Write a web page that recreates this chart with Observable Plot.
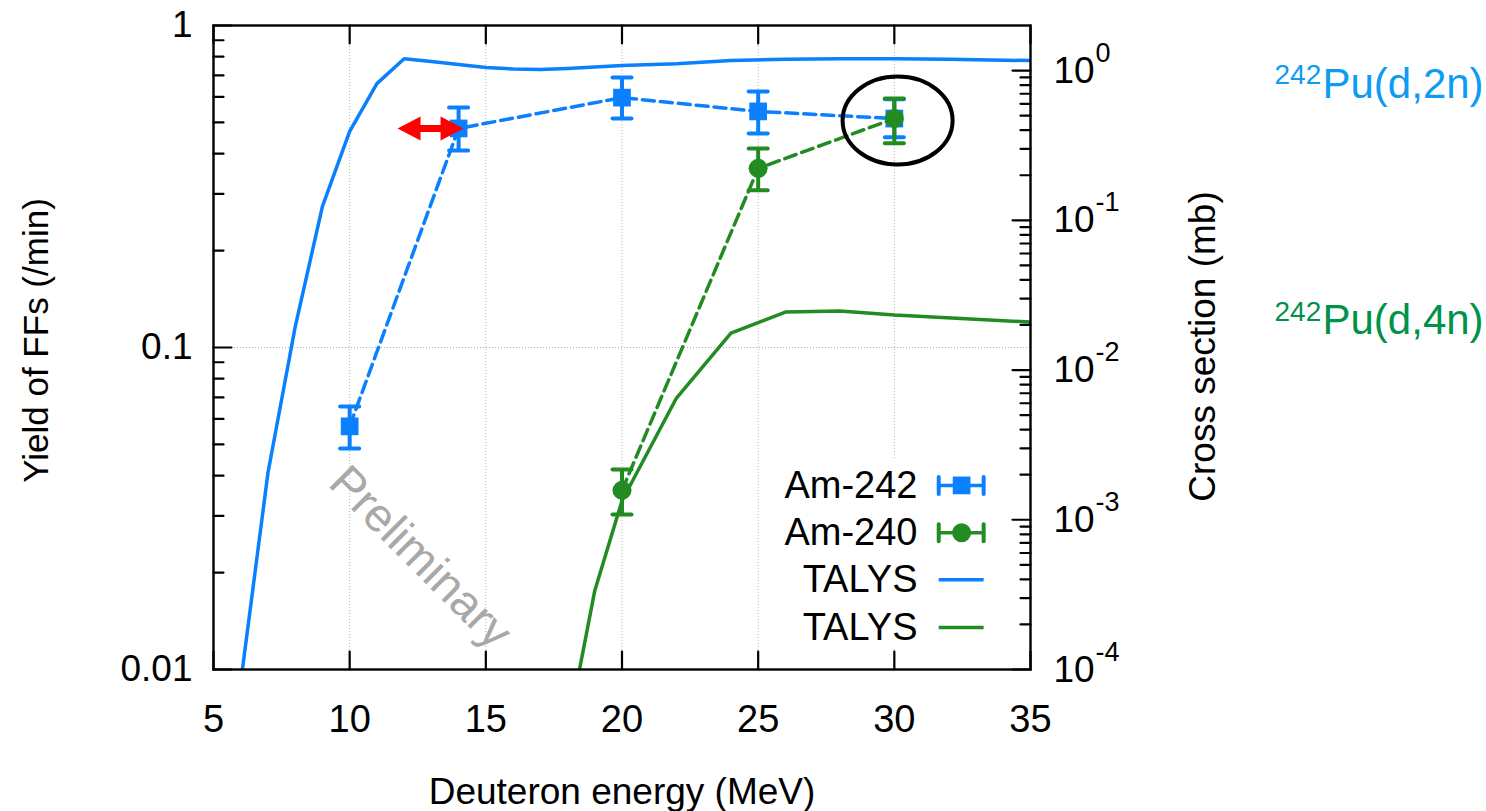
<!DOCTYPE html>
<html>
<head>
<meta charset="utf-8">
<script src="https://cdn.jsdelivr.net/npm/d3@7"></script>
<script src="https://cdn.jsdelivr.net/npm/@observablehq/plot@0.6"></script>
<style>
  html, body { margin: 0; padding: 0; background: #fff; overflow: hidden; }
</style>
</head>
<body>
<div id="chart"></div>
<script>
// ---------- data ----------
const energies242 = [10, 14, 20, 25, 30];
const yield242    = [0.0569, 0.479, 0.597, 0.541, 0.514];
const yield242Lo  = [0.0486, 0.409, 0.514, 0.462, 0.450];
const yield242Hi  = [0.0656, 0.556, 0.690, 0.624, 0.590];

const energies240 = [20, 25, 30];
const yield240    = [0.0360, 0.360, 0.514];
const yield240Lo  = [0.0303, 0.308, 0.431];
const yield240Hi  = [0.0418, 0.415, 0.593];

// TALYS cross sections (mb), right axis
const talys2nE  = [6, 7, 8, 9, 10, 11, 12, 13, 14, 15, 16, 17, 18, 20, 22, 24, 26, 28, 30, 32, 35];
const talys2nXS = [8.2e-5, 2.06e-3, 0.0194, 0.124, 0.392, 0.818, 1.20, 1.148, 1.096, 1.047, 1.024, 1.016, 1.031, 1.08, 1.11, 1.166, 1.19, 1.20, 1.20, 1.19, 1.166];
const talys4nE  = [18, 19, 20, 22, 24, 26, 28, 30, 35];
const talys4nXS = [3.86e-5, 3.36e-4, 1.34e-3, 6.5e-3, 0.01765, 0.0244, 0.0248, 0.0233, 0.0209];

// ticks & labels
const xTicks = [5, 10, 15, 20, 25, 30, 35];
const xGrid = [10, 15, 20, 25, 30];
const yGrid = [0.1];
const leftTicks = [0.01, 0.1, 1];
const leftTickLabels = ["0.01", "0.1", "1"];
const rightTicks = [1e-4, 1e-3, 1e-2, 1e-1, 1];
const rightTickExp = ["-4", "-3", "-2", "-1", "0"];
const legendLabels = ["Am-242", "Am-240", "TALYS", "TALYS"];
const xTitle = "Deuteron energy (MeV)";
const yTitle = "Yield of FFs (/min)";
const y2Title = "Cross section (mb)";
const reactionLabels = [{sup: "242", main: "Pu(d,2n)"}, {sup: "242", main: "Pu(d,4n)"}];

// annotation anchors (data units)
const legendRowY = [0.0373, 0.0266, 0.0190, 0.0135];
const legendTextX = 30.85;
const legendSampleX = [31.63, 33.28];
const legendMarkX = 32.47;
const legendBox = {x1: 25.5, x2: 34.25, y1: 0.0116, y2: 0.0452};
const arrowPos = {e: 12.97, y: 0.479};
const circlePos = {e: 30.12, y: 0.507};
const stampPos = {e: 12.6, y: 0.0223};

// ---------- scales ----------
const leftDomain = [0.01, 1];
const rightDomain = [1e-4, 2];
const L = Math.log10;
const toLeft = v => {
  const t = (L(v) - L(rightDomain[0])) / (L(rightDomain[1]) - L(rightDomain[0]));
  return 10 ** (L(leftDomain[0]) + t * (L(leftDomain[1]) - L(leftDomain[0])));
};

const am242 = energies242.map((e, i) => ({e, y: yield242[i], lo: yield242Lo[i], hi: yield242Hi[i]}));
const am240 = energies240.map((e, i) => ({e, y: yield240[i], lo: yield240Lo[i], hi: yield240Hi[i]}));
const t2n = talys2nE.map((e, i) => ({e, v: talys2nXS[i]}));
const t4n = talys4nE.map((e, i) => ({e, v: talys4nXS[i]}));

const leftMinor = [];
for (const k of [-2, -1]) for (let m = 2; m <= 9; m++) leftMinor.push(m * 10 ** k);
const rightMinor = [];
for (const k of [-4, -3, -2, -1]) for (let m = 2; m <= 9; m++) rightMinor.push(m * 10 ** k);
const rightTickData = rightTicks.map((v, i) => ({v, exp: rightTickExp[i]}));
const legendRows = legendLabels.map((t, i) => ({t, y: legendRowY[i], i}));

const BLUE = "#0a80ff";
const GREEN = "#228b22";
const FONT = "'Liberation Sans', Arial, Helvetica, sans-serif";
const LW = 3.5;
const EW = 4;

// custom shapes
const tickLine = {draw(ctx, l) { ctx.moveTo(0, 0); ctx.lineTo(0, -l); }};
const ellipseSym = {draw(ctx) {
  const rx = 55, ry = 44, k = 0.5523;
  ctx.moveTo(rx, 0);
  ctx.bezierCurveTo(rx, k * ry, k * rx, ry, 0, ry);
  ctx.bezierCurveTo(-k * rx, ry, -rx, k * ry, -rx, 0);
  ctx.bezierCurveTo(-rx, -k * ry, -k * rx, -ry, 0, -ry);
  ctx.bezierCurveTo(k * rx, -ry, rx, -k * ry, rx, 0);
  ctx.closePath();
}};
const doubleArrow = {draw(ctx) {
  const tip = 33, base = 10, hh = 12, sh = 3.5;
  ctx.moveTo(-tip, 0);
  ctx.lineTo(-base, -hh); ctx.lineTo(-base, -sh); ctx.lineTo(base, -sh); ctx.lineTo(base, -hh);
  ctx.lineTo(tip, 0);
  ctx.lineTo(base, hh); ctx.lineTo(base, sh); ctx.lineTo(-base, sh); ctx.lineTo(-base, hh);
  ctx.closePath();
}};

const errMarks = (data, color) => [
  Plot.ruleX(data, {x: "e", y1: "lo", y2: "hi", stroke: color, strokeWidth: EW}),
  Plot.vector(data, {x: "e", y: "lo", length: 19, rotate: 90, anchor: "middle", shape: tickLine, stroke: color, strokeWidth: EW}),
  Plot.vector(data, {x: "e", y: "hi", length: 19, rotate: 90, anchor: "middle", shape: tickLine, stroke: color, strokeWidth: EW})
];

const legendColor = [BLUE, GREEN, BLUE, GREEN];

const chart = Plot.plot({
  width: 1486,
  height: 811,
  marginLeft: 213,
  marginRight: 456,
  marginTop: 25,
  marginBottom: 142,
  style: {fontFamily: FONT, fontSize: "37px", color: "black", background: "white", overflow: "visible"},
  x: {domain: [5, 35]},
  y: {type: "log", domain: leftDomain},
  marks: [
    // grid
    Plot.ruleX(xGrid, {stroke: "#b0b0b0", strokeWidth: 1, strokeDasharray: "1,2"}),
    Plot.ruleY(yGrid, {stroke: "#b0b0b0", strokeWidth: 1, strokeDasharray: "1,2"}),
    // legend background
    Plot.rect([legendBox], {x1: "x1", x2: "x2", y1: "y1", y2: "y2", fill: "white"}),
    // watermark
    Plot.text(["Preliminary"], {x: () => stampPos.e, y: () => stampPos.y, text: d => d, rotate: 45, fontSize: 47, fill: "#a8a8a8", textAnchor: "middle", lineAnchor: "middle"}),
    // TALYS curves (right axis)
    Plot.line(t2n, {x: "e", y: d => toLeft(d.v), stroke: BLUE, strokeWidth: LW, clip: true}),
    Plot.line(t4n, {x: "e", y: d => toLeft(d.v), stroke: GREEN, strokeWidth: LW, clip: true}),
    // measured yields
    Plot.line(am242, {x: "e", y: "y", stroke: BLUE, strokeWidth: LW, strokeDasharray: "12,6"}),
    ...errMarks(am242, BLUE),
    Plot.dot(am242, {x: "e", y: "y", symbol: "square", r: 10, fill: BLUE}),
    Plot.line(am240, {x: "e", y: "y", stroke: GREEN, strokeWidth: LW, strokeDasharray: "12,6"}),
    ...errMarks(am240, GREEN),
    Plot.dot(am240, {x: "e", y: "y", symbol: "circle", r: 9.5, fill: GREEN}),
    // annotations
    Plot.dot([arrowPos], {x: "e", y: "y", symbol: doubleArrow, fill: "#ff0000", stroke: "none"}),
    Plot.dot([circlePos], {x: "e", y: "y", symbol: ellipseSym, fill: "none", stroke: "black", strokeWidth: 4}),
    // legend
    Plot.text(legendRows, {x: () => legendTextX, y: "y", text: "t", textAnchor: "end", lineAnchor: "middle", fontSize: 38, fill: "black"}),
    Plot.link(legendRows, {x1: () => legendSampleX[0], x2: () => legendSampleX[1], y1: "y", y2: "y", stroke: d => legendColor[d.i], strokeWidth: LW}),
    Plot.vector(legendRows.filter(d => d.i < 2), {x: () => legendSampleX[0], y: "y", length: 17, rotate: 0, anchor: "middle", shape: tickLine, stroke: d => legendColor[d.i], strokeWidth: EW}),
    Plot.vector(legendRows.filter(d => d.i < 2), {x: () => legendSampleX[1], y: "y", length: 17, rotate: 0, anchor: "middle", shape: tickLine, stroke: d => legendColor[d.i], strokeWidth: EW}),
    Plot.dot(legendRows.filter(d => d.i === 0), {x: () => legendMarkX, y: "y", symbol: "square", r: 10, fill: BLUE}),
    Plot.dot(legendRows.filter(d => d.i === 1), {x: () => legendMarkX, y: "y", symbol: "circle", r: 9.5, fill: GREEN}),
    // inward ticks
    Plot.vector(xTicks, {x: d => d, frameAnchor: "bottom", length: 18, rotate: 0, anchor: "start", shape: tickLine, stroke: "black", strokeWidth: 2.2}),
    Plot.vector(xTicks, {x: d => d, frameAnchor: "top", length: 18, rotate: 180, anchor: "start", shape: tickLine, stroke: "black", strokeWidth: 2.2}),
    Plot.vector(leftTicks, {y: d => d, frameAnchor: "left", length: 18, rotate: 90, anchor: "start", shape: tickLine, stroke: "black", strokeWidth: 2.2}),
    Plot.vector(leftMinor, {y: d => d, frameAnchor: "left", length: 10, rotate: 90, anchor: "start", shape: tickLine, stroke: "black", strokeWidth: 2.2}),
    Plot.vector(rightTicks, {y: d => toLeft(d), frameAnchor: "right", length: 18, rotate: -90, anchor: "start", shape: tickLine, stroke: "black", strokeWidth: 2.2}),
    Plot.vector(rightMinor, {y: d => toLeft(d), frameAnchor: "right", length: 10, rotate: -90, anchor: "start", shape: tickLine, stroke: "black", strokeWidth: 2.2}),
    Plot.frame({stroke: "black", strokeWidth: 2.4}),
    // axes labels
    Plot.axisX({ticks: xTicks, tickSize: 0, tickPadding: 36, fontSize: 38, label: null, tickFormat: d => String(d)}),
    Plot.axisY({ticks: leftTicks, tickSize: 0, tickPadding: 21, fontSize: 37, label: null, tickFormat: d => leftTickLabels[leftTicks.indexOf(d)]}),
    Plot.text(rightTickData, {y: d => toLeft(d.v), frameAnchor: "right", text: () => "10", dx: 23, dy: 12, textAnchor: "start", lineAnchor: "bottom", fontSize: 37, fill: "black"}),
    Plot.text(rightTickData, {y: d => toLeft(d.v), frameAnchor: "right", text: "exp", dx: 65, dy: -9, textAnchor: "start", lineAnchor: "bottom", fontSize: 27, fill: "black"}),
    Plot.text([xTitle], {frameAnchor: "bottom", text: d => d, dy: 134, textAnchor: "middle", lineAnchor: "bottom", fontSize: 37, fill: "black"}),
    Plot.text([yTitle], {frameAnchor: "left", text: d => d, dx: -166, dy: -7, rotate: -90, textAnchor: "middle", lineAnchor: "bottom", fontSize: 35, fill: "black"}),
    Plot.text([y2Title], {frameAnchor: "right", text: d => d, dx: 184, dy: -1, rotate: -90, textAnchor: "middle", lineAnchor: "bottom", fontSize: 37, fill: "black"}),
    // reaction labels
    Plot.text([reactionLabels[0]], {frameAnchor: "top-right", text: "sup", dx: 244, dy: 58, textAnchor: "start", lineAnchor: "bottom", fontSize: 28, fill: "#0c9cf2"}),
    Plot.text([reactionLabels[0]], {frameAnchor: "top-right", text: "main", dx: 292, dy: 72, textAnchor: "start", lineAnchor: "bottom", fontSize: 42, fill: "#0c9cf2"}),
    Plot.text([reactionLabels[1]], {frameAnchor: "top-right", text: "sup", dx: 244, dy: 295, textAnchor: "start", lineAnchor: "bottom", fontSize: 28, fill: "#00924a"}),
    Plot.text([reactionLabels[1]], {frameAnchor: "top-right", text: "main", dx: 292, dy: 308, textAnchor: "start", lineAnchor: "bottom", fontSize: 42, fill: "#00924a"})
  ]
});

document.getElementById("chart").append(chart);
</script>
</body>
</html>
